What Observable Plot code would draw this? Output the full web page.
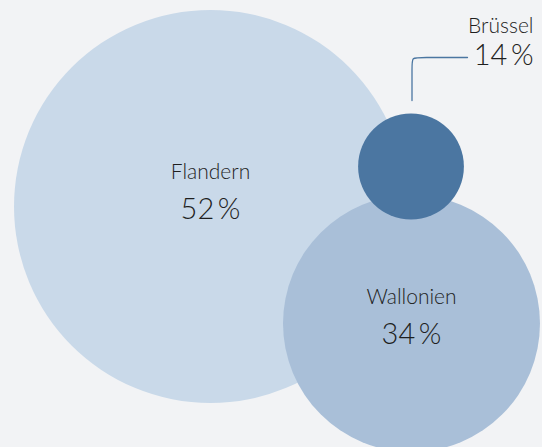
<!DOCTYPE html>
<html>
<head>
<meta charset="utf-8">
<script src="https://cdn.jsdelivr.net/npm/d3@7"></script>
<script src="https://cdn.jsdelivr.net/npm/@observablehq/plot@0.6"></script>
<style>
  html, body { margin: 0; padding: 0; background: #f2f3f5; }
  #chart svg { display: block; }
</style>
</head>
<body>
<div id="chart"></div>
<script>
// ---- data ----
const regions = ["Flandern", "Wallonien", "Brüssel"];
const shares = [52, 34, 14];
const colors = ["#c9d9e9", "#a9bfd8", "#4b76a1"];

// ---- layout (pixel placement of bubbles and labels) ----
const W = 542, H = 447;
const centers = {Flandern: [210, 206], Wallonien: [411, 323], "Brüssel": [410.5, 166]};
const nameY = {Flandern: 178, Wallonien: 303};
const valueY = {Flandern: 218, Wallonien: 343};
const calloutX = 533, calloutNameY = 32, calloutValueY = 64, leaderY = 57, leaderEndX = 467;

const pct = v => `${v}\u2009%`;
const data = regions.map((name, i) => ({name, value: shares[i], color: colors[i],
  x: centers[name][0], y: centers[name][1]}));

const rScale = {type: "linear", domain: [0, 52], range: [0, 196.5]};
const inside = data.filter(d => d.name !== "Brüssel");
const bru = data.find(d => d.name === "Brüssel");
const bruR = bru.value * 196.5 / 52;
const lx = bru.x + 1;
const leader = [
  [lx, bru.y - bruR - 13], [lx, leaderY + 8], [lx, leaderY], [lx + 8, leaderY], [leaderEndX, leaderY]
];

const font = "Lato, 'Open Sans', sans-serif";
const fw = 300;
const ink = "#1f1f1f";
const chart = Plot.plot({
  width: W, height: H, margin: 0,
  style: {background: "#f2f3f5", fontFamily: font},
  x: {type: "identity", axis: null},
  y: {type: "identity", axis: null},
  r: rScale,
  marks: [
    Plot.dot(data, {x: "x", y: "y", r: "value", fill: "color", stroke: null}),
    Plot.line(leader, {x: d => d[0], y: d => d[1], stroke: "#4b76a1", strokeWidth: 1.3, curve: "basis"}),
    Plot.text(inside, {x: "x", y: d => nameY[d.name], text: "name", fontSize: 21, fontWeight: fw, fill: ink, lineAnchor: "bottom", fontFamily: font}),
    Plot.text(inside, {x: "x", y: d => valueY[d.name], text: d => pct(d.value), fontSize: 29, fontWeight: fw, fill: ink, lineAnchor: "bottom", fontFamily: font}),
    Plot.text([bru], {x: () => calloutX, y: () => calloutNameY, text: "name", fontSize: 21, fontWeight: fw, fill: ink, textAnchor: "end", lineAnchor: "bottom", fontFamily: font}),
    Plot.text([bru], {x: () => calloutX, y: () => calloutValueY, text: d => pct(d.value), fontSize: 29, fontWeight: fw, fill: ink, textAnchor: "end", lineAnchor: "bottom", fontFamily: font})
  ]
});
document.getElementById("chart").append(chart);
</script>
</body>
</html>
